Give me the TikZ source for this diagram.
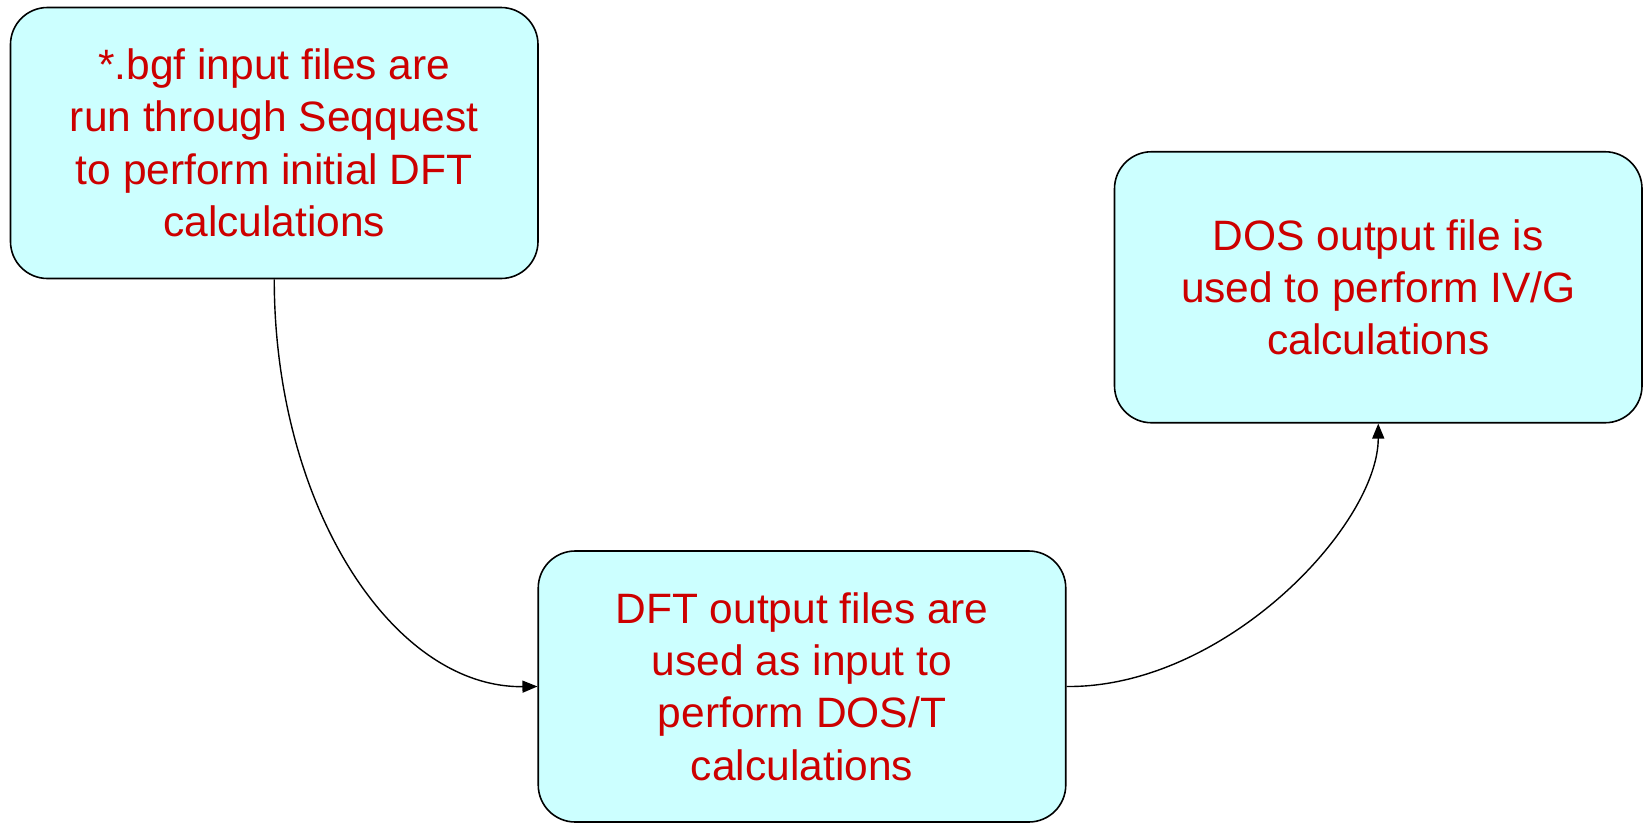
\documentclass[tikz,border=0pt]{standalone}
\usepackage{fontspec}
\setmainfont{Liberation Sans}
\usetikzlibrary{arrows.meta}
\definecolor{boxfill}{HTML}{CCFFFF}
\definecolor{txtred}{HTML}{CC0000}
\begin{document}
\begin{tikzpicture}[x=1pt,y=-1pt,
  procbox/.style={draw=black,line width=1.6pt,fill=boxfill,rounded corners=37pt,
    minimum width=527.5pt,minimum height=271pt,inner sep=0pt,align=center,
    text=txtred,font=\fontsize{42.5}{52.4}\selectfont},
  conn/.style={line width=1.4pt,-{Triangle[length=15pt,width=12pt]}}]
\useasboundingbox (0,0) rectangle (1644,822);
\node[procbox] (b1) at (274.25,143) {*.bgf input files are\\run through Seqquest\\to perform initial DFT\\calculations};
\node[procbox] (b2) at (802,686.5) {DFT output files are\\used as input to\\perform DOS/T\\calculations};
\node[procbox] (b3) at (1378.25,287.25) {DOS output file is\\used to perform IV/G\\calculations};
\draw[conn] (b1.south) .. controls (274.25,505) and (392,688) .. (b2.west);
\draw[conn] (b2.east) .. controls (1225,688) and (1378.25,525) .. (b3.south);
\end{tikzpicture}
\end{document}
